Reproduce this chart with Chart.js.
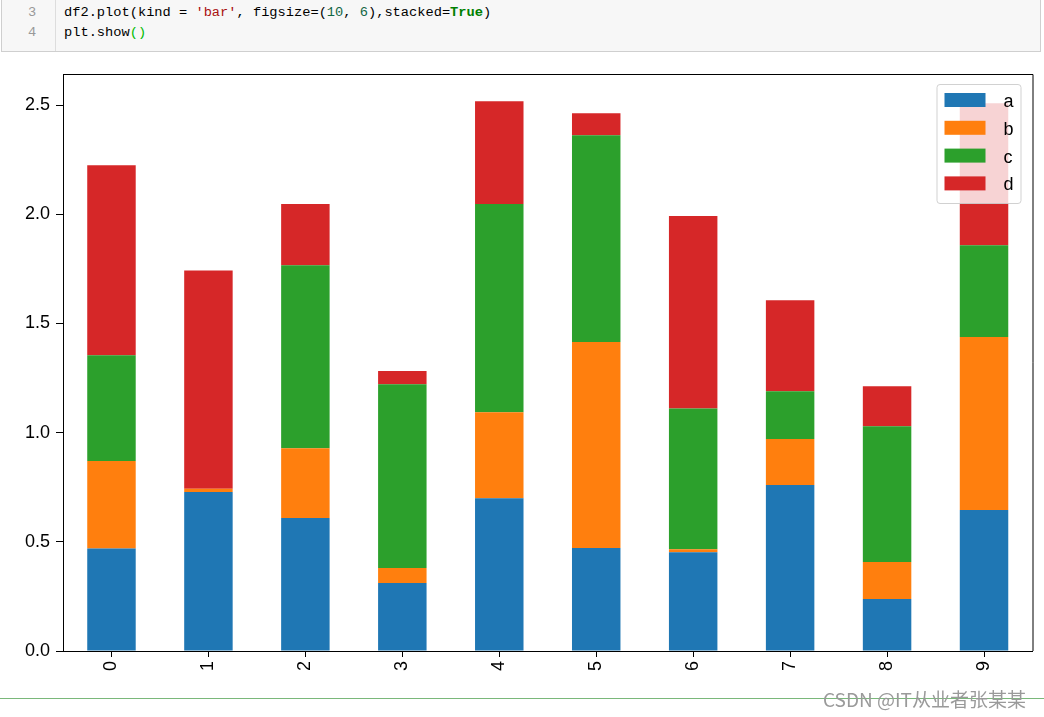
<!DOCTYPE html>
<html>
<head>
<meta charset="utf-8">
<script src="https://cdn.jsdelivr.net/npm/chart.js@4.4.0/dist/chart.umd.min.js"></script>
<style>
  body { margin: 0; background: #fff; width: 1044px; height: 717px; position: relative; overflow: hidden; }
  .code {
    position: absolute; left: 1px; top: -1px; width: 1040px; height: 53px;
    background: #f7f7f7; border: 1px solid #cfcfcf; box-sizing: border-box;
  }
  .gutter {
    position: absolute; left: 0; top: 0; width: 54px; height: 100%;
    border-right: 1px solid #ddd; box-sizing: border-box;
  }
  .ln { position: absolute; left: 26px; font: 13.7px "Liberation Mono", monospace; color: #999; }
  .src { position: absolute; left: 62px; font: 13.7px "Liberation Mono", monospace; color: #000; white-space: pre; }
  .str { color: #a11; }
  .num { color: #164; }
  .kw { color: #008000; font-weight: bold; }
  .br { color: #0b0; }
  #wrap { position: absolute; left: 0; top: 60px; width: 1044px; height: 637px; }
  .sep { position: absolute; left: 0; top: 698px; width: 1044px; height: 1px; background: #7ab87a; }
  .mark { position: absolute; left: 823px; top: 685px; font: 19px "Noto Sans CJK SC", sans-serif; color: #9a9a9a; white-space: nowrap; }
</style>
</head>
<body>
<div class="code">
  <div class="gutter"></div>
  <div class="ln" style="top:5px">3</div>
  <div class="ln" style="top:25px">4</div>
  <div class="src" style="top:5px">df2.plot(kind = <span class="str">'bar'</span>, figsize=(<span class="num">10</span>, <span class="num">6</span>),stacked=<span class="kw">True</span>)</div>
  <div class="src" style="top:25px">plt.show<span class="br">()</span></div>
</div>
<div id="wrap"><canvas id="chart"></canvas></div>
<div class="sep"></div>
<div class="mark">CSDN @IT从业者张某某</div>
<script>
// data
const categories = ['0', '1', '2', '3', '4', '5', '6', '7', '8', '9'];
const seriesA = [0.470, 0.728, 0.609, 0.311, 0.700, 0.472, 0.452, 0.760, 0.238, 0.646];
const seriesB = [0.400, 0.015, 0.320, 0.069, 0.394, 0.943, 0.014, 0.211, 0.170, 0.792];
const seriesC = [0.485, 0.000, 0.838, 0.842, 0.953, 0.948, 0.645, 0.219, 0.622, 0.421];
const seriesD = [0.870, 1.000, 0.280, 0.060, 0.471, 0.100, 0.881, 0.417, 0.183, 0.650];
const yTicks = [0.0, 0.5, 1.0, 1.5, 2.0, 2.5];

Chart.defaults.font.family = '"Liberation Sans", Arial, sans-serif';
Chart.defaults.color = '#000';

// top and right spines, like matplotlib
const frame = {
  id: 'frame',
  afterDraw(chart) {
    const a = chart.chartArea, ctx = chart.ctx;
    ctx.save();
    ctx.strokeStyle = '#000';
    ctx.lineWidth = 1;
    ctx.beginPath();
    ctx.moveTo(a.left, a.top + 0.5);
    ctx.lineTo(a.right + 0.5, a.top + 0.5);
    ctx.lineTo(a.right + 0.5, a.bottom);
    ctx.stroke();
    ctx.restore();
  }
};

// legend box inside the plot, upper right
const innerLegend = {
  id: 'innerLegend',
  afterDatasetsDraw(chart) {
    const a = chart.chartArea, ctx = chart.ctx;
    const sets = chart.data.datasets;
    const w = 84, h = 119;
    const x = a.right - 12 - w, y = a.top + 10;
    ctx.save();
    ctx.fillStyle = 'rgba(255,255,255,0.8)';
    ctx.strokeStyle = 'rgba(204,204,204,0.9)';
    ctx.lineWidth = 1;
    ctx.beginPath();
    ctx.roundRect(x + 0.5, y + 0.5, w, h, 3);
    ctx.fill();
    ctx.stroke();
    ctx.font = '18px "Liberation Sans", Arial, sans-serif';
    ctx.textBaseline = 'middle';
    sets.forEach((ds, i) => {
      const ry = y + 9 + i * 27.8;
      ctx.fillStyle = ds.backgroundColor;
      ctx.fillRect(x + 8, ry, 41, 14);
      ctx.fillStyle = '#000';
      ctx.fillText(ds.label, x + 67, ry + 9);
    });
    ctx.restore();
  }
};

new Chart(document.getElementById('chart'), {
  type: 'bar',
  data: {
    labels: categories,
    datasets: [
      { label: 'a', data: seriesA, backgroundColor: '#1f77b4' },
      { label: 'b', data: seriesB, backgroundColor: '#ff7f0e' },
      { label: 'c', data: seriesC, backgroundColor: '#2ca02c' },
      { label: 'd', data: seriesD, backgroundColor: '#d62728' }
    ]
  },
  options: {
    responsive: true,
    maintainAspectRatio: false,
    animation: false,
    layout: { padding: { top: 14, right: 11.5, left: 0, bottom: 0 } },
    datasets: { bar: { categoryPercentage: 1.0, barPercentage: 0.5, borderWidth: 0 } },
    plugins: { legend: { display: false }, tooltip: { enabled: false } },
    scales: {
      x: {
        stacked: true,
        grid: { offset: false, drawOnChartArea: false, drawTicks: true, tickLength: 6, color: '#000' },
        border: { display: true, color: '#000' },
        ticks: { minRotation: 90, maxRotation: 90, padding: 4, font: { size: 18 } },
        afterFit(scale) { scale.height = 46; scale.paddingLeft = 0; scale.paddingRight = 0; }
      },
      y: {
        stacked: true,
        min: 0,
        max: 2.643,
        grid: { drawOnChartArea: false, drawTicks: true, tickLength: 7, color: '#000' },
        border: { display: true, color: '#000' },
        afterBuildTicks(scale) { scale.ticks = yTicks.map(v => ({ value: v })); },
        ticks: { padding: 6, font: { size: 18 }, callback: v => v.toFixed(1) },
        afterFit(scale) { scale.width = 63; scale.paddingTop = 0; scale.paddingBottom = 0; }
      }
    }
  },
  plugins: [frame, innerLegend]
});
</script>
</body>
</html>
